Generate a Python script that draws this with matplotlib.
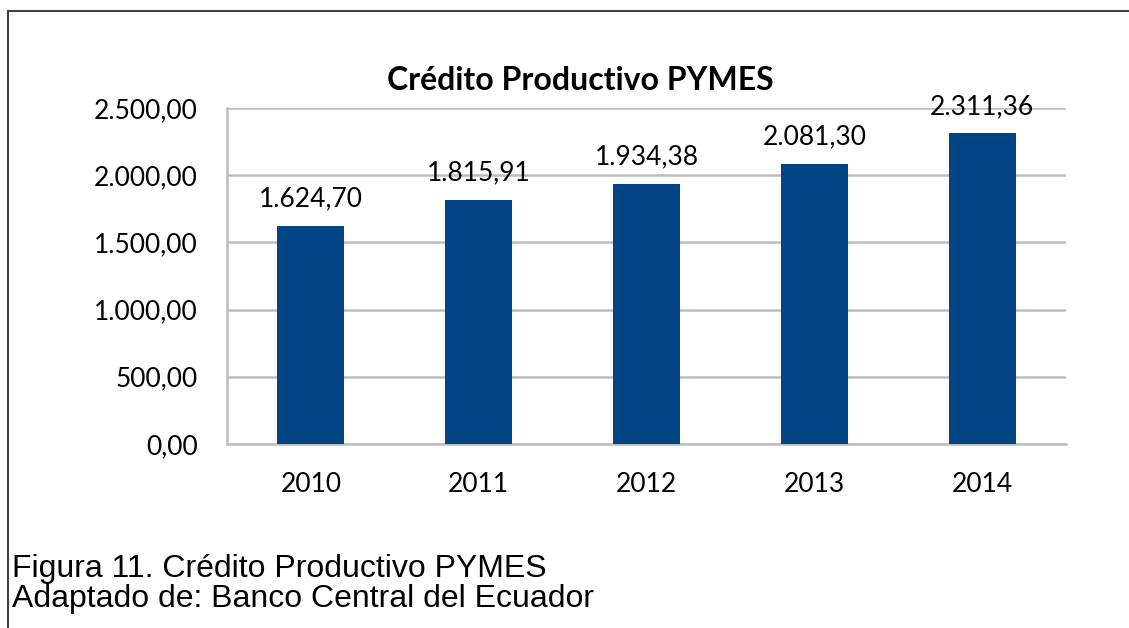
import matplotlib.pyplot as plt
from matplotlib.lines import Line2D

years = ['2010', '2011', '2012', '2013', '2014']
credito = [1624.70, 1815.91, 1934.38, 2081.30, 2311.36]
y_ticks = [0, 500, 1000, 1500, 2000, 2500]


def formato(v):
    # formato con punto de miles y coma decimal
    s = f"{v:,.2f}"
    return s.replace(',', 'X').replace('.', ',').replace('X', '.')


fig = plt.figure(figsize=(11.29, 6.28), dpi=100)
fig.patch.set_facecolor('white')

ax = fig.add_axes([227 / 1129, 184 / 628, 839 / 1129, 336 / 628])

x = list(range(len(years)))
bars = ax.bar(x, credito, width=0.4, color='#004586', zorder=3)

for xi, v in zip(x, credito):
    ax.annotate(formato(v), (xi, v), xytext=(0, 27), textcoords='offset pixels',
                ha='center', va='center', fontsize=19, family='Lato', color='black')

ax.set_xlim(-0.5, len(years) - 0.5)
ax.set_ylim(0, 2500)
ax.set_yticks(y_ticks)
ax.set_yticklabels([formato(t) for t in y_ticks], fontsize=19, family='Lato')
ax.set_xticks(x)
ax.set_xticklabels(years, fontsize=19, family='Lato')
ax.tick_params(axis='both', length=0)
ax.tick_params(axis='y', pad=21)
ax.tick_params(axis='x', pad=20)

ax.grid(axis='y', color='#BDBDBD', linewidth=1.8, zorder=0)
for side in ['top', 'right']:
    ax.spines[side].set_visible(False)
ax.spines['left'].set_color('#BDBDBD')
ax.spines['left'].set_linewidth(1.8)
ax.spines['bottom'].set_color('#BDBDBD')
ax.spines['bottom'].set_linewidth(1.8)

fig.text(580 / 1129, 1 - 80 / 628, 'Crédito Productivo PYMES', ha='center', va='center',
         fontsize=23, fontweight='bold', family='Lato')

# marco del documento
fig.add_artist(Line2D([8 / 1129, 1], [1 - 11 / 628, 1 - 11 / 628], color='#404040', linewidth=1.5))
fig.add_artist(Line2D([8 / 1129, 8 / 1129], [0, 1 - 11 / 628], color='#404040', linewidth=1.5))

fig.text(12 / 1129, 1 - 577 / 628, 'Figura 11. Crédito Productivo PYMES', ha='left', va='baseline',
         fontsize=23, family='Liberation Sans')
fig.text(12 / 1129, 1 - 607 / 628, 'Adaptado de: Banco Central del Ecuador', ha='left', va='baseline',
         fontsize=23, family='Liberation Sans')

plt.savefig('out.png', dpi=100)
